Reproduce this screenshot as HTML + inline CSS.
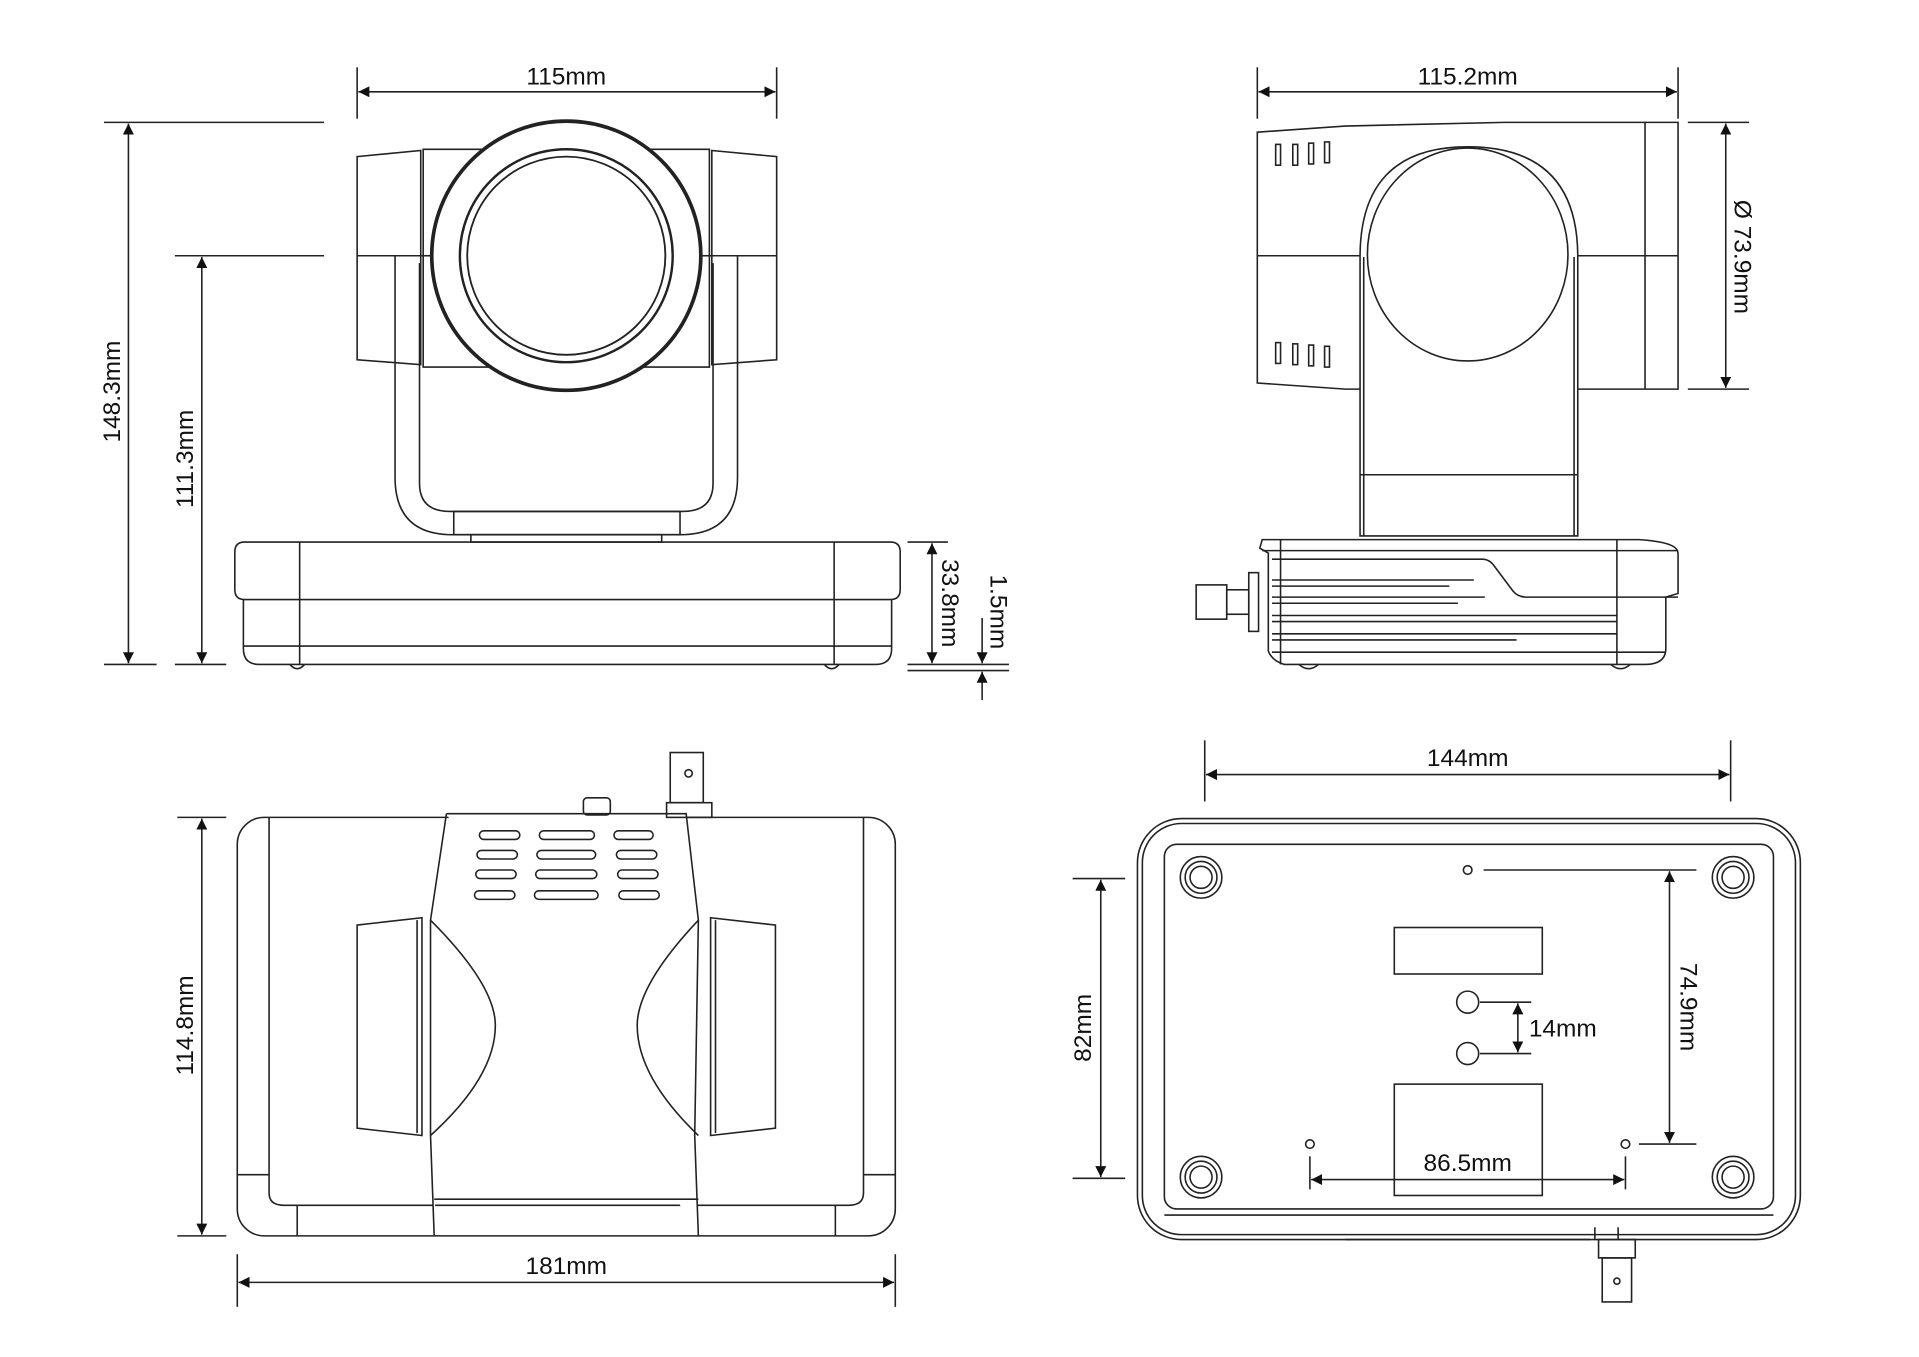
<!DOCTYPE html>
<html><head><meta charset="utf-8"><style>
html,body{margin:0;padding:0;background:#fff;}
svg{display:block;}
text{font-family:"Liberation Sans",sans-serif;font-size:20px;fill:#111;}
</style></head><body>
<svg width="1919" height="1357" viewBox="0 0 1569 1109" preserveAspectRatio="none" xmlns="http://www.w3.org/2000/svg">
<defs>
<marker id="a" viewBox="0 0 10 10" refX="10" refY="5" markerWidth="9" markerHeight="9" markerUnits="userSpaceOnUse" orient="auto-start-reverse"><path d="M0,0L10,5L0,10z" fill="#111"/></marker>
</defs>
<g fill="none" stroke="#222" stroke-width="1.3">
<!-- ===== TOP LEFT ===== -->
<line x1="292" y1="55" x2="292" y2="97"/><line x1="635" y1="55" x2="635" y2="97"/>
<line x1="293" y1="75" x2="634" y2="75" marker-start="url(#a)" marker-end="url(#a)"/>
<line x1="85" y1="100" x2="265" y2="100"/><line x1="85" y1="543" x2="128" y2="543"/>
<line x1="105" y1="101" x2="105" y2="542" marker-start="url(#a)" marker-end="url(#a)"/>
<line x1="143" y1="209" x2="265" y2="209"/><line x1="143" y1="543" x2="185" y2="543"/>
<line x1="165" y1="210" x2="165" y2="542" marker-start="url(#a)" marker-end="url(#a)"/>
<path d="M292,128 L344,123 L344,298 L292,294 Z"/><line x1="292" y1="209" x2="344" y2="209"/>
<path d="M582,123 L635,128 L635,294 L582,298 Z"/><line x1="582" y1="209" x2="635" y2="209"/>
<path d="M346,122 L580,122 L580,300 L346,300 Z"/>
<line x1="344" y1="209" x2="352" y2="209"/><line x1="574" y1="209" x2="582" y2="209"/>
<path d="M323,209 L323,390 Q323,437 370,437 L556,437 Q603,437 603,390 L603,209"/>
<path d="M343,215 L343,395 Q343,418 368,418 L558,418 Q583,418 583,395 L583,215"/>
<rect x="371" y="418" width="185" height="19"/>
<rect x="385" y="437" width="156" height="6"/>
<circle cx="463" cy="209" r="110" stroke-width="3" fill="#fff"/>
<circle cx="463" cy="209" r="87" stroke-width="2"/>
<circle cx="463" cy="209" r="81" stroke-width="1.5"/>
<path d="M200,443 L728,443 Q736,443 736,451 L736,482 Q736,490 728,490 L200,490 Q192,490 192,482 L192,451 Q192,443 200,443 Z"/>
<path d="M199,490 L199,530 Q199,543 212,543 L716,543 Q729,543 729,530 L729,490"/>
<line x1="199" y1="528" x2="729" y2="528"/>
<line x1="245" y1="443" x2="245" y2="543"/><line x1="682" y1="443" x2="682" y2="543"/>
<path d="M237,543 Q243,550 249,543"/><path d="M674,543 Q680,550 686,543"/>
<line x1="742" y1="443" x2="775" y2="443"/>
<line x1="742" y1="543" x2="825" y2="543"/><line x1="742" y1="548" x2="825" y2="548"/>
<line x1="762" y1="444" x2="762" y2="542" marker-start="url(#a)" marker-end="url(#a)"/>
<line x1="803" y1="505" x2="803" y2="542" marker-end="url(#a)"/>
<line x1="803" y1="572" x2="803" y2="549" marker-end="url(#a)"/>

<!-- ===== TOP RIGHT ===== -->
<line x1="1028" y1="55" x2="1028" y2="97"/><line x1="1372" y1="55" x2="1372" y2="97"/>
<line x1="1029" y1="75" x2="1371" y2="75" marker-start="url(#a)" marker-end="url(#a)"/>
<path d="M1028,108 L1100,103 L1230,100 L1372,100 L1372,318 L1230,318 L1100,318 L1028,313 Z"/>
<line x1="1345" y1="100" x2="1345" y2="318"/>
<line x1="1028" y1="209" x2="1372" y2="209"/>
<g>
<rect x="1043" y="118" width="4" height="17"/><rect x="1057" y="118" width="4" height="17"/><rect x="1070" y="117" width="4" height="17"/><rect x="1083" y="116" width="4" height="17"/>
<rect x="1043" y="280" width="4" height="17"/><rect x="1057" y="281" width="4" height="17"/><rect x="1070" y="282" width="4" height="17"/><rect x="1083" y="283" width="4" height="17"/>
</g>
<path d="M1112,210 Q1112,120 1200,120 Q1290,120 1290,210 L1290,438 L1112,438 Z" fill="#fff"/>
<line x1="1115" y1="210" x2="1115" y2="438"/><line x1="1287" y1="210" x2="1287" y2="438"/>
<ellipse cx="1200" cy="208" rx="82" ry="87"/>
<line x1="1112" y1="388" x2="1290" y2="388"/>
<line x1="1380" y1="100" x2="1430" y2="100"/><line x1="1380" y1="318" x2="1430" y2="318"/>
<line x1="1411" y1="101" x2="1411" y2="317" marker-start="url(#a)" marker-end="url(#a)"/>
<path d="M1032,441 L1340,441 Q1372,443 1372,452 L1372,485 L1362,488 L1362,530 Q1362,543 1345,543 L1050,543 Q1040,540 1037,532 L1037,452 L1030,448 Z"/>
<line x1="1032" y1="450" x2="1372" y2="450"/>
<line x1="1047" y1="441" x2="1047" y2="543"/><line x1="1322" y1="441" x2="1322" y2="543"/>
<path d="M1040,457 L1212,457 Q1218,457 1222,463 L1237,483 Q1241,488 1248,488 L1372,488"/>
<line x1="1040" y1="474" x2="1205" y2="474"/><line x1="1040" y1="479" x2="1185" y2="479"/>
<line x1="1040" y1="488" x2="1214" y2="488"/><line x1="1040" y1="493" x2="1192" y2="493"/>
<line x1="1040" y1="503" x2="1322" y2="503"/><line x1="1040" y1="508" x2="1322" y2="508"/>
<line x1="1040" y1="518" x2="1322" y2="518"/><line x1="1040" y1="523" x2="1240" y2="523"/>
<line x1="1040" y1="533" x2="1362" y2="533"/>
<rect x="978" y="478" width="25" height="28"/><rect x="1003" y="482" width="18" height="20"/><rect x="1021" y="468" width="8" height="48"/>
<path d="M1062,543 Q1070,550 1078,543"/><path d="M1317,543 Q1325,550 1333,543"/>

<!-- ===== BOTTOM LEFT ===== -->
<line x1="145" y1="668" x2="185" y2="668"/><line x1="145" y1="1010" x2="185" y2="1010"/>
<line x1="165" y1="669" x2="165" y2="1009" marker-start="url(#a)" marker-end="url(#a)"/>
<line x1="194" y1="1025" x2="194" y2="1068"/><line x1="732" y1="1025" x2="732" y2="1068"/>
<line x1="195" y1="1048" x2="731" y2="1048" marker-start="url(#a)" marker-end="url(#a)"/>
<rect x="194" y="668" width="538" height="342" rx="22"/>
<path d="M220,668 L220,975 Q220,985 232,985 L694,985 Q706,985 706,975 L706,668"/>
<line x1="194" y1="960" x2="220" y2="960"/><line x1="706" y1="960" x2="732" y2="960"/>
<line x1="243" y1="985" x2="243" y2="1010"/><line x1="683" y1="985" x2="683" y2="1010"/>
<path d="M365,665 L561,665 L571,752 L568,928 L571,1010 M355,1010 L352,928 L352,752 L365,665" fill="#fff"/>
<line x1="355" y1="980" x2="571" y2="980"/>
<path d="M292,756 L345,750 L345,928 L292,922 Z"/><line x1="341" y1="752" x2="341" y2="926"/>
<path d="M352,752 Q405,805 405,838 Q405,880 352,928"/>
<path d="M634,756 L581,750 L581,928 L634,922 Z"/><line x1="585" y1="752" x2="585" y2="926"/>
<path d="M571,752 Q521,805 521,838 Q521,880 571,928"/>
<g stroke-width="1.3">
<rect x="392" y="679" width="33" height="7" rx="3.5"/><rect x="441" y="679" width="45" height="7" rx="3.5"/><rect x="502" y="679" width="32" height="7" rx="3.5"/>
<rect x="390" y="695" width="33" height="7" rx="3.5"/><rect x="439" y="695" width="48" height="7" rx="3.5"/><rect x="504" y="695" width="33" height="7" rx="3.5"/>
<rect x="389" y="711" width="33" height="7" rx="3.5"/><rect x="438" y="711" width="50" height="7" rx="3.5"/><rect x="505" y="711" width="33" height="7" rx="3.5"/>
<rect x="388" y="728" width="33" height="7" rx="3.5"/><rect x="437" y="728" width="52" height="7" rx="3.5"/><rect x="506" y="728" width="33" height="7" rx="3.5"/>
</g>
<rect x="477" y="652" width="22" height="14" rx="3"/>
<rect x="545" y="656" width="37" height="12"/><rect x="548" y="615" width="27" height="41"/>
<circle cx="563" cy="632" r="3"/>

<!-- ===== BOTTOM RIGHT ===== -->
<line x1="985" y1="605" x2="985" y2="655"/><line x1="1415" y1="605" x2="1415" y2="655"/>
<line x1="986" y1="633" x2="1414" y2="633" marker-start="url(#a)" marker-end="url(#a)"/>
<rect x="930" y="669" width="542" height="344" rx="36"/>
<rect x="934" y="673" width="534" height="336" rx="32"/>
<rect x="952" y="690" width="498" height="298" rx="10"/>
<line x1="952" y1="993" x2="1450" y2="993"/>
<line x1="1100" y1="1013" x2="1300" y2="1013"/>
<line x1="1304" y1="1003" x2="1304" y2="1013"/><line x1="1323" y1="1003" x2="1323" y2="1013"/>
<rect x="1307" y="1013" width="30" height="15"/><rect x="1310" y="1028" width="24" height="36"/>
<circle cx="1322" cy="1047" r="2.5"/>
<g>
<circle cx="982" cy="717" r="17"/><circle cx="982" cy="717" r="13"/><circle cx="982" cy="717" r="9"/>
<circle cx="1417" cy="717" r="17"/><circle cx="1417" cy="717" r="13"/><circle cx="1417" cy="717" r="9"/>
<circle cx="982" cy="962" r="17"/><circle cx="982" cy="962" r="13"/><circle cx="982" cy="962" r="9"/>
<circle cx="1417" cy="962" r="17"/><circle cx="1417" cy="962" r="13"/><circle cx="1417" cy="962" r="9"/>
</g>
<circle cx="1200" cy="711" r="3.5"/><circle cx="1071" cy="935" r="3.5"/><circle cx="1329" cy="935" r="3.5"/>
<rect x="1140" y="758" width="121" height="38"/>
<circle cx="1200" cy="819" r="9"/><circle cx="1200" cy="861" r="9"/>
<rect x="1140" y="886" width="121" height="91"/>
<line x1="1213" y1="711" x2="1387" y2="711"/><line x1="1340" y1="935" x2="1387" y2="935"/>
<line x1="1365" y1="712" x2="1365" y2="934" marker-start="url(#a)" marker-end="url(#a)"/>
<line x1="1210" y1="819" x2="1252" y2="819"/><line x1="1210" y1="861" x2="1252" y2="861"/>
<line x1="1241" y1="820" x2="1241" y2="860" marker-start="url(#a)" marker-end="url(#a)"/>
<line x1="1071" y1="945" x2="1071" y2="972"/><line x1="1329" y1="945" x2="1329" y2="972"/>
<line x1="1072" y1="964" x2="1328" y2="964" marker-start="url(#a)" marker-end="url(#a)"/>
<line x1="877" y1="718" x2="920" y2="718"/><line x1="877" y1="963" x2="920" y2="963"/>
<line x1="900" y1="719" x2="900" y2="962" marker-start="url(#a)" marker-end="url(#a)"/>
</g>
<text x="463" y="69" text-anchor="middle">115mm</text>
<text x="1200" y="69" text-anchor="middle">115.2mm</text>
<text transform="translate(98,320) rotate(-90)" text-anchor="middle">148.3mm</text>
<text transform="translate(158,375) rotate(-90)" text-anchor="middle">111.3mm</text>
<text transform="translate(770,493) rotate(90)" text-anchor="middle">33.8mm</text>
<text transform="translate(810,500) rotate(90)" text-anchor="middle">1.5mm</text>
<text transform="translate(1418,210) rotate(90)" text-anchor="middle">Ø 73.9mm</text>
<text transform="translate(158,838) rotate(-90)" text-anchor="middle">114.8mm</text>
<text x="463" y="1041" text-anchor="middle">181mm</text>
<text x="1200" y="626" text-anchor="middle">144mm</text>
<text transform="translate(1374,823) rotate(90)" text-anchor="middle">74.9mm</text>
<text x="1250" y="847">14mm</text>
<text x="1200" y="957" text-anchor="middle">86.5mm</text>
<text transform="translate(892,840) rotate(-90)" text-anchor="middle">82mm</text>
</svg>
</body></html>
